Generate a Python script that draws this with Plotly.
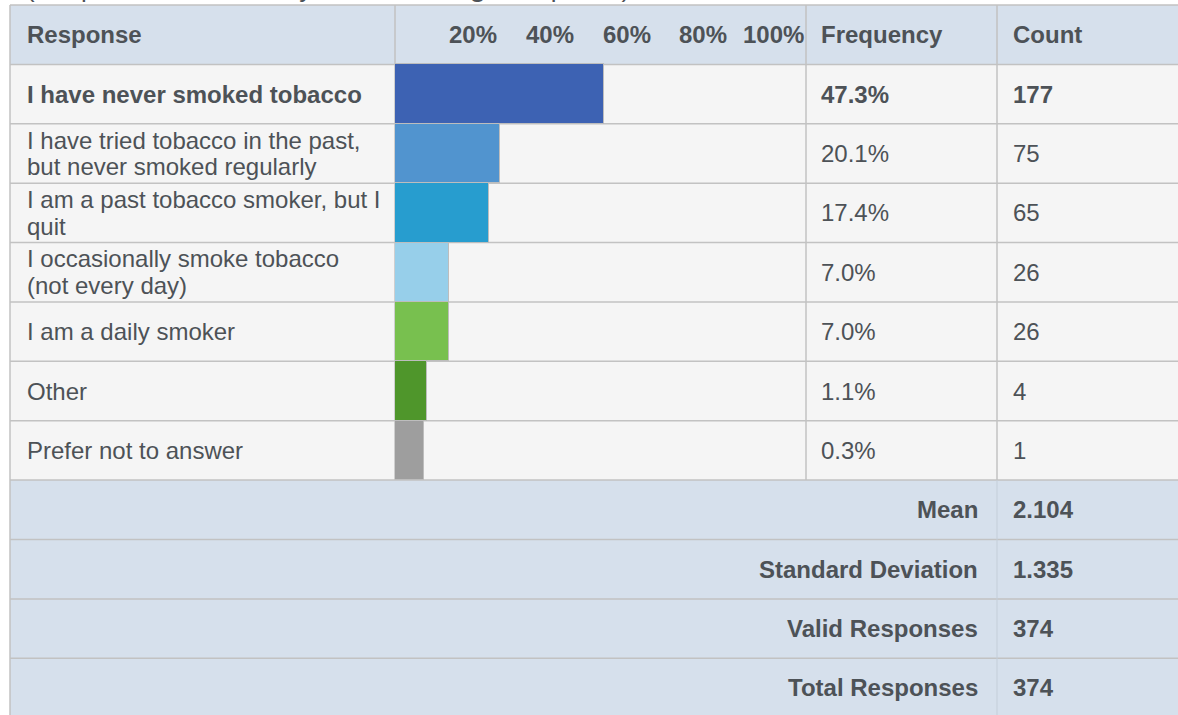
import plotly.graph_objects as go

# ---------------- data ----------------
responses = [
    "I have never smoked tobacco",
    "I have tried tobacco in the past,<br>but never smoked regularly",
    "I am a past tobacco smoker, but I<br>quit",
    "I occasionally smoke tobacco<br>(not every day)",
    "I am a daily smoker",
    "Other",
    "Prefer not to answer",
]
frequency = [47.3, 20.1, 17.4, 7.0, 7.0, 1.1, 0.3]
counts = [177, 75, 65, 26, 26, 4, 1]
bar_colors = ["#3D62B3", "#5194CF", "#279DCF", "#97CFEA", "#78C04F", "#4F962B", "#9E9E9E"]
tick_values = [20, 40, 60, 80, 100]
header_labels = ["Response", "Frequency", "Count"]
stat_labels = ["Mean", "Standard Deviation", "Valid Responses", "Total Responses"]
stat_values = ["2.104", "1.335", "374", "374"]
note = "(Respondents could only choose a <b>single</b> response)"

# ---------------- layout constants ----------------
W, H = 1178, 715
TOP = 5.0
ROWH = 59.39
X_LEFT, X_BAR, X_FREQ, X_COUNT, X_RIGHT = 10, 395, 806, 997, 1178
STUB = 7.15  # minimum bar stub (in % units) drawn before zero
TEXT = "#4D5257"
HEAD_BG = "#D6E0EC"
ROW_BG = "#F5F5F5"
GRID = "#C2C2C2"
FONT = "Liberation Sans, Arial, sans-serif"
FS = 24


def px(x):
    return x / W


n_resp = len(responses)
n_rows = 1 + n_resp + len(stat_labels)
y_top = -TOP / ROWH - 0.5
y_bot = (H - TOP) / ROWH - 0.5
bold_idx = counts.index(max(counts))

fig = go.Figure()

fig.add_trace(go.Bar(
    orientation="h",
    y=list(range(1, n_resp + 1)),
    x=[f + STUB for f in frequency],
    base=-STUB,
    width=1.0,
    marker=dict(color=bar_colors, line=dict(color="#BDBDBD", width=1)),
    hoverinfo="skip",
    showlegend=False,
))

shapes = []
# backgrounds
shapes.append(dict(type="rect", xref="paper", yref="y", x0=px(X_LEFT), x1=px(X_RIGHT),
                   y0=-0.5, y1=0.5, fillcolor=HEAD_BG, line_width=0, layer="below"))
shapes.append(dict(type="rect", xref="paper", yref="y", x0=px(X_LEFT), x1=px(X_RIGHT),
                   y0=0.5, y1=n_resp + 0.5, fillcolor=ROW_BG, line_width=0, layer="below"))
shapes.append(dict(type="rect", xref="paper", yref="y", x0=px(X_LEFT), x1=px(X_RIGHT),
                   y0=n_resp + 0.5, y1=n_rows + 0.5, fillcolor=HEAD_BG, line_width=0, layer="below"))
# horizontal lines
for i in range(n_rows):
    shapes.append(dict(type="line", xref="paper", yref="y", x0=px(X_LEFT), x1=px(X_RIGHT),
                       y0=i - 0.5, y1=i - 0.5, line=dict(color=GRID, width=1.5), layer="below"))
# vertical lines
shapes.append(dict(type="line", xref="paper", yref="y", x0=px(X_LEFT), x1=px(X_LEFT),
                   y0=-0.5, y1=n_rows + 0.5, line=dict(color=GRID, width=1.5), layer="below"))
for xv in (X_BAR, X_FREQ, X_COUNT):
    shapes.append(dict(type="line", xref="paper", yref="y", x0=px(xv), x1=px(xv),
                       y0=-0.5, y1=n_resp + 0.5, line=dict(color=GRID, width=1.5), layer="below"))
shapes.append(dict(type="line", xref="paper", yref="y", x0=px(X_COUNT), x1=px(X_COUNT),
                   y0=n_resp + 0.5, y1=n_rows + 0.5, line=dict(color="#C4CED9", width=1), layer="below"))

ann = []


def txt(text, x, y, anchor="left", xref="paper", yshift=0, bold=False):
    ann.append(dict(text=f"<b>{text}</b>" if bold else text, x=x, y=y, xref=xref, yref="y",
                    xanchor=anchor, yanchor="middle", yshift=yshift, showarrow=False,
                    font=dict(family=FONT, size=FS, color=TEXT)))


# note at top (clipped by the top edge, as in the original)
ann.append(dict(text=note, x=px(24), y=1, xref="paper", yref="paper", xanchor="left",
                yanchor="bottom", yshift=-5.5, showarrow=False,
                font=dict(family=FONT, size=26, color=TEXT)))

# header
txt(header_labels[0], px(25), 0, bold=True)
for t in tick_values:
    txt(f"{t}%", t, 0, anchor="right", xref="x", bold=True)
txt(header_labels[1], px(X_FREQ + 13), 0, bold=True)
txt(header_labels[2], px(X_COUNT + 14), 0, bold=True)

# response rows
for i, (r, f, c) in enumerate(zip(responses, frequency, counts)):
    row = i + 1
    b = i == bold_idx
    lines = r.split("<br>")
    if len(lines) == 1:
        txt(r, px(25), row, bold=b)
    else:
        txt(lines[0], px(25), row, yshift=13.3, bold=b)
        txt(lines[1], px(25), row, yshift=-13.3, bold=b)
    txt(f"{f:.1f}%", px(X_FREQ + 13), row, bold=b)
    txt(str(c), px(X_COUNT + 14), row, bold=b)

# stats rows
for j, (lab, val) in enumerate(zip(stat_labels, stat_values)):
    row = 1 + n_resp + j
    txt(lab, px(X_COUNT - 17), row, anchor="right", bold=True)
    txt(val, px(X_COUNT + 14), row, bold=True)

fig.update_layout(
    width=W, height=H,
    margin=dict(l=0, r=0, t=0, b=0),
    paper_bgcolor="white",
    plot_bgcolor="rgba(0,0,0,0)",
    shapes=shapes,
    annotations=ann,
    xaxis=dict(domain=[px(X_BAR), px(X_FREQ)], range=[-STUB, 100], visible=False, fixedrange=True),
    yaxis=dict(domain=[0, 1], range=[y_bot, y_top], visible=False, fixedrange=True),
    bargap=0,
)

fig.write_html(
    "out.html",
    config={"displayModeBar": False},
    post_script="document.body.style.margin='0';document.body.style.overflow='hidden';",
)
